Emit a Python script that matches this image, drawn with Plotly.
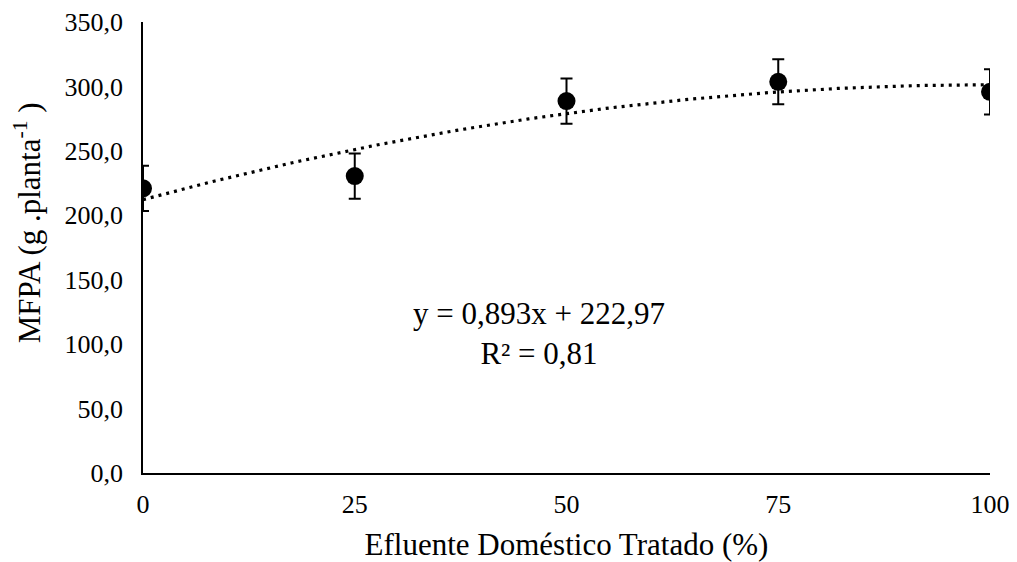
import numpy as np
import plotly.graph_objects as go

x_vals = [0, 25, 50, 75, 100]
y_vals = [220.9, 230.4, 288.6, 303.6, 295.8]
err_vals = [17.6, 17.5, 17.5, 17.5, 17.5]
y_ticks = [0, 50, 100, 150, 200, 250, 300, 350]
x_ticks = [0, 25, 50, 75, 100]
eq_text = "y = 0,893x + 222,97<br>R² = 0,81"
x_title = "Efluente Doméstico Tratado (%)"
y_title = "MFPA (g .planta<sup>-1</sup> )"

# polynomial (order 2) trendline as drawn by the spreadsheet
coef = np.polyfit(x_vals, y_vals, 2)
tx = np.linspace(0, 100, 201)
ty = np.polyval(coef, tx)

FONT = "Liberation Serif, Times New Roman, serif"

fig = go.Figure()
fig.add_trace(go.Scatter(
    x=tx, y=ty, mode="lines",
    line=dict(color="black", width=3.2, dash="3px,5px"),
    hoverinfo="skip", showlegend=False))
fig.add_trace(go.Scatter(
    x=x_vals, y=y_vals, mode="markers",
    marker=dict(color="black", size=18),
    error_y=dict(type="data", array=err_vals, visible=True,
                 color="black", thickness=2, width=6),
    showlegend=False))

fig.add_annotation(
    x=46.8, y=108, xref="x", yref="y", text=eq_text, showarrow=False,
    font=dict(family=FONT, size=31, color="black"), align="center")

# y-axis title (placed as in the reference, slightly above the axis middle)
fig.add_annotation(
    x=-0.137, y=0.556, xref="paper", yref="paper", text=y_title,
    textangle=-90, showarrow=False, xanchor="center", yanchor="middle",
    font=dict(family=FONT, size=31, color="black"))

fig.update_layout(
    width=1009, height=554,
    margin=dict(l=135, r=27, t=14, b=89),
    paper_bgcolor="white", plot_bgcolor="white",
    separators=", ",
    font=dict(family=FONT, size=26, color="black"),
)
fig.update_xaxes(
    range=[0, 100], tickvals=x_ticks, ticktext=[str(v) for v in x_ticks],
    showgrid=False, zeroline=False, showline=True, linecolor="black",
    linewidth=1.5, ticks="outside", ticklen=7, tickcolor="rgba(0,0,0,0)",
    tickfont=dict(size=26), automargin=False,
    title=dict(text=x_title, font=dict(size=31), standoff=16))
fig.update_yaxes(
    range=[0, 350], tickvals=y_ticks, tickformat=".1f",
    showgrid=False, zeroline=False, showline=True, linecolor="black",
    linewidth=1.5, ticks="outside", ticklen=13, tickcolor="rgba(0,0,0,0)",
    tickfont=dict(size=26), automargin=False)

fig.write_html("out.html")
